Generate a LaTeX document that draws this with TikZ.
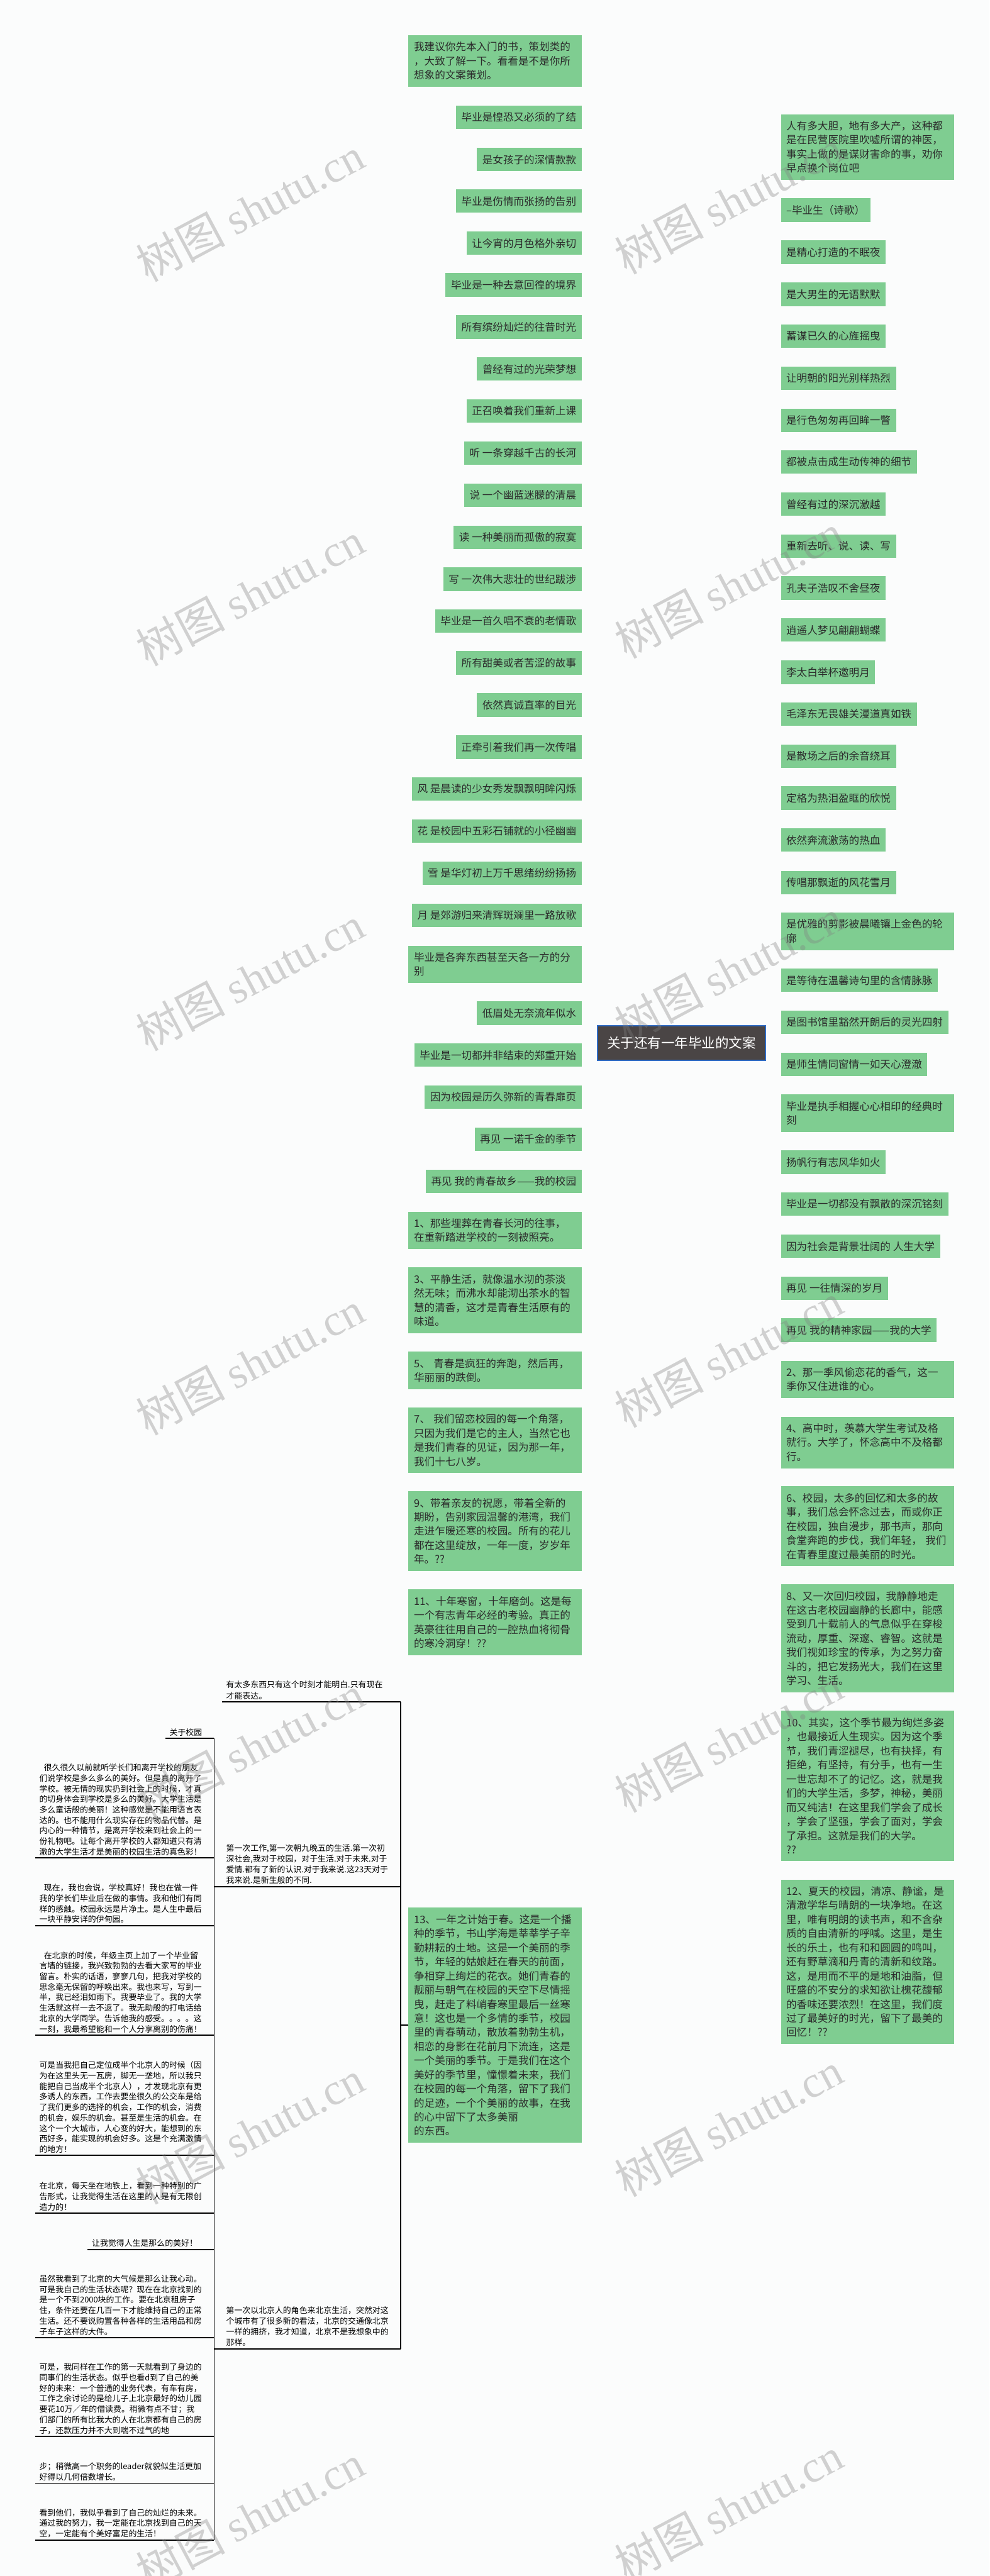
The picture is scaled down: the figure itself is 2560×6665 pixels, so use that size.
\documentclass[tikz,border=0pt]{standalone}
\usepackage{fontspec}
\setmainfont{Noto Sans CJK SC}
\newfontfamily\wmlatin{Liberation Serif}
\definecolor{ngreen}{HTML}{7FCD91}
\definecolor{ntext}{HTML}{2B2B2B}
\definecolor{conncol}{HTML}{3E3B3B}
\definecolor{cfill}{HTML}{4A4545}
\definecolor{cblue}{HTML}{2F6BC4}
\definecolor{bgc}{HTML}{FBFCFC}
\pgfdeclarelayer{bg}
\pgfdeclarelayer{fg}
\pgfsetlayers{bg,main,fg}
\tikzset{
  gn/.style={fill=ngreen, text=ntext, font=\fontsize{27}{36.5}\selectfont, inner xsep=14pt, inner ysep=0pt, minimum height=60.5pt},
  ml/.style={text width=420pt, align=left, minimum height=#1},
  ln/.style={gn, anchor=east},
  rn/.style={gn, anchor=west},
  conn/.style={draw=conncol, line width=3.2pt},
  bt/.style={font=\fontsize{21}{27.2}\selectfont, text=black, inner xsep=11pt, inner ysep=6pt, align=left, anchor=south east},
  mt/.style={font=\fontsize{21}{28}\selectfont, text=black, inner xsep=11pt, inner ysep=6pt, align=left, anchor=south west},
  ul/.style={draw=black, line width=3pt},
  wm/.style={rotate=28, text=gray, opacity=0.35, font=\fontsize{115}{115}\selectfont},
}
\begin{document}
\begin{tikzpicture}[x=1pt, y=-1pt]
\fill[bgc] (0,0) rectangle (2560,6665);
\useasboundingbox (0,0) rectangle (2560,6665);

% center
\node[fill=cfill, draw=cblue, line width=3pt, text=white, font=\fontsize{35}{40}\selectfont, inner xsep=25pt, minimum height=90pt] (C) at (1763,2699) {关于还有一年毕业的文案};

% left nodes
\node[ln, ml=133.5pt] (l1) at (1505,157.5) {我建议你先本入门的书，策划类的\\，大致了解一下。看看是不是你所\\想象的文案策划。};
\node[ln] (l2) at (1505,303) {毕业是惶恐又必须的了结};
\node[ln] (l3) at (1505,413) {是女孩子的深情款款};
\node[ln] (l4) at (1505,520.5) {毕业是伤情而张扬的告别};
\node[ln] (l5) at (1505,629.5) {让今宵的月色格外亲切};
\node[ln] (l6) at (1505,737) {毕业是一种去意回徨的境界};
\node[ln] (l7) at (1505,846) {所有缤纷灿烂的往昔时光};
\node[ln] (l8) at (1505,955) {曾经有过的光荣梦想};
\node[ln] (l9) at (1505,1063.5) {正召唤着我们重新上课};
\node[ln] (l10) at (1505,1172.5) {听 一条穿越千古的长河};
\node[ln] (l11) at (1505,1281.5) {说 一个幽蓝迷朦的清晨};
\node[ln] (l12) at (1505,1390) {读 一种美丽而孤傲的寂寞};
\node[ln] (l13) at (1505,1498.5) {写 一次伟大悲壮的世纪跋涉};
\node[ln] (l14) at (1505,1606.5) {毕业是一首久唱不衰的老情歌};
\node[ln] (l15) at (1505,1715) {所有甜美或者苦涩的故事};
\node[ln] (l16) at (1505,1824) {依然真诚直率的目光};
\node[ln] (l17) at (1505,1933) {正牵引着我们再一次传唱};
\node[ln] (l18) at (1505,2041.5) {风 是晨读的少女秀发飘飘明眸闪烁};
\node[ln] (l19) at (1505,2150.5) {花 是校园中五彩石铺就的小径幽幽};
\node[ln] (l20) at (1505,2259) {雪 是华灯初上万千思绪纷纷扬扬};
\node[ln] (l21) at (1505,2368) {月 是郊游归来清辉斑斓里一路放歌};
\node[ln, ml=97pt] (l22) at (1505,2495) {毕业是各奔东西甚至天各一方的分\\别};
\node[ln] (l23) at (1505,2621.5) {低眉处无奈流年似水};
\node[ln] (l24) at (1505,2730) {毕业是一切都并非结束的郑重开始};
\node[ln] (l25) at (1505,2838.5) {因为校园是历久弥新的青春扉页};
\node[ln] (l26) at (1505,2947.5) {再见 一诺千金的季节};
\node[ln] (l27) at (1505,3056) {再见 我的青春故乡——我的校园};
\node[ln, ml=97pt] (l28) at (1505,3183.5) {1、那些埋葬在青春长河的往事，\\在重新踏进学校的一刻被照亮。};
\node[ln, ml=170pt] (l29) at (1505,3364.5) {3、平静生活，就像温水沏的茶淡\\然无味；而沸水却能沏出茶水的智\\慧的清香，这才是青春生活原有的\\味道。};
\node[ln, ml=97pt] (l30) at (1505,3545.5) {5、 青春是疯狂的奔跑，然后再，\\华丽丽的跌倒。};
\node[ln, ml=170pt] (l31) at (1505,3726.5) {7、 我们留恋校园的每一个角落，\\只因为我们是它的主人，当然它也\\是我们青春的见证，因为那一年，\\我们十七八岁。};
\node[ln, ml=206.5pt] (l32) at (1505,3961.5) {9、带着亲友的祝愿，带着全新的\\期盼，告别家园温馨的港湾，我们\\走进乍暖还寒的校园。所有的花儿\\都在这里绽放，一年一度，岁岁年\\年。??};
\node[ln, ml=170pt] (l33) at (1505,4197.5) {11、十年寒窗，十年磨剑。这是每\\一个有志青年必经的考验。真正的\\英豪往往用自己的一腔热血将彻骨\\的寒冷洞穿！??};
\node[ln, ml=608pt] (l34) at (1505,5240) {13、一年之计始于春。这是一个播\\种的季节，书山学海是莘莘学子辛\\勤耕耘的土地。这是一个美丽的季\\节，年轻的姑娘赶在春天的前面，\\争相穿上绚烂的花衣。她们青春的\\靓丽与朝气在校园的天空下尽情摇\\曳，赶走了料峭春寒里最后一丝寒\\意！这也是一个多情的季节，校园\\里的青春萌动，散放着勃勃生机，\\相恋的身影在花前月下流连，这是\\一个美丽的季节。于是我们在这个\\美好的季节里，憧憬着未来，我们\\在校园的每一个角落，留下了我们\\的足迹，一个个美丽的故事，在我\\的心中留下了太多美丽\\的东西。};

% right nodes
\node[rn, ml=170pt] (r1) at (2020,380.5) {人有多大胆，地有多大产，这种都\\是在民营医院里吹嘘所谓的神医，\\事实上做的是谋财害命的事，劝你\\早点换个岗位吧};
\node[rn] (r2) at (2020,543.5) {--毕业生（诗歌）};
\node[rn] (r3) at (2020,652.5) {是精心打造的不眠夜};
\node[rn] (r4) at (2020,761.5) {是大男生的无语默默};
\node[rn] (r5) at (2020,870) {蓄谋已久的心旌摇曳};
\node[rn] (r6) at (2020,978.5) {让明朝的阳光别样热烈};
\node[rn] (r7) at (2020,1087.5) {是行色匆匆再回眸一瞥};
\node[rn] (r8) at (2020,1195.5) {都被点击成生动传神的细节};
\node[rn] (r9) at (2020,1304.5) {曾经有过的深沉激越};
\node[rn] (r10) at (2020,1413.5) {重新去听、说、读、写};
\node[rn] (r11) at (2020,1521.5) {孔夫子浩叹不舍昼夜};
\node[rn] (r12) at (2020,1630) {逍遥人梦见翩翩蝴蝶};
\node[rn] (r13) at (2020,1739.5) {李太白举杯邀明月};
\node[rn] (r14) at (2020,1847.5) {毛泽东无畏雄关漫道真如铁};
\node[rn] (r15) at (2020,1956.5) {是散场之后的余音绕耳};
\node[rn] (r16) at (2020,2065) {定格为热泪盈眶的欣悦};
\node[rn] (r17) at (2020,2173.5) {依然奔流激荡的热血};
\node[rn] (r18) at (2020,2283.5) {传唱那飘逝的风花雪月};
\node[rn, ml=97pt] (r19) at (2020,2409.5) {是优雅的剪影被晨曦镶上金色的轮\\廓};
\node[rn] (r20) at (2020,2536.5) {是等待在温馨诗句里的含情脉脉};
\node[rn] (r21) at (2020,2645) {是图书馆里豁然开朗后的灵光四射};
\node[rn] (r22) at (2020,2753.5) {是师生情同窗情一如天心澄澈};
\node[rn, ml=97pt] (r23) at (2020,2880) {毕业是执手相握心心相印的经典时\\刻};
\node[rn] (r24) at (2020,3007) {扬帆行有志风华如火};
\node[rn] (r25) at (2020,3115.5) {毕业是一切都没有飘散的深沉铭刻};
\node[rn] (r26) at (2020,3224.5) {因为社会是背景壮阔的 人生大学};
\node[rn] (r27) at (2020,3333) {再见 一往情深的岁月};
\node[rn] (r28) at (2020,3441.5) {再见 我的精神家园——我的大学};
\node[rn, ml=97pt] (r29) at (2020,3569) {2、那一季风偷恋花的香气，这一\\季你又住进谁的心。};
\node[rn, ml=133.5pt] (r30) at (2020,3732) {4、高中时，羡慕大学生考试及格\\就行。大学了，怀念高中不及格都\\行。};
\node[rn, ml=206.5pt] (r31) at (2020,3949) {6、校园，太多的回忆和太多的故\\事，我们总会怀念过去，而或你正\\在校园，独自漫步，那书声，那向\\食堂奔跑的步伐，我们年轻， 我们\\在青春里度过最美丽的时光。};
\node[rn, ml=279.5pt] (r32) at (2020,4238.75) {8、又一次回归校园，我静静地走\\在这古老校园幽静的长廊中，能感\\受到几十载前人的气息似乎在穿梭\\流动，厚重、深邃、睿智。这就是\\我们视如珍宝的传承，为之努力奋\\斗的，把它发扬光大，我们在这里\\学习、生活。};
\node[rn, ml=389pt] (r33) at (2020,4620.5) {10、其实，这个季节最为绚烂多姿\\，也最接近人生现实。因为这个季\\节，我们青涩褪尽，也有抉择，有\\拒绝，有坚持，有分手，也有一生\\一世忘却不了的记忆。这，就是我\\们的大学生活，多梦，神秘，美丽\\而又纯洁！在这里我们学会了成长\\，学会了坚强，学会了面对，学会\\了承担。这就是我们的大学。\\??};
\node[rn, ml=425.5pt] (r34) at (2020,5075.75) {12、夏天的校园，清凉、静谧，是\\清澈学华与晴朗的一块净地。在这\\里，唯有明朗的读书声，和不含杂\\质的自由清新的呼喊。这里，是生\\长的乐土，也有和和圆圆的鸣叫，\\还有野草滴和丹青的清新和纹路。\\这，是用而不平的是地和油脂，但\\旺盛的不安分的求知欲让槐花馥郁\\的香味还要浓烈！在这里，我们度\\过了最美好的时光，留下了最美的\\回忆！??};

% connectors
\begin{pgfonlayer}{bg}
\foreach \n in {1,...,34}{
  \draw[conn] (C.center) .. controls (C.center |- l\n.east) .. (l\n.east);
  \draw[conn] (C.center) .. controls (C.center |- r\n.west) .. (r\n.west);
}
\end{pgfonlayer}

% middle column (children of node 13)
\coordinate (sp1) at (1037,4403);
\coordinate (sp2) at (1037,6077);
\coordinate (k13) at (1037,5240);
\node[mt, text width=420pt] (m1) at (574,4403) {有太多东西只有这个时刻才能明白.只有现在\\才能表达。};
\node[mt, text width=420pt] (m2) at (574,4881) {第一次工作,第一次朝九晚五的生活.第一次初\\深社会,我对于校园，对于生活.对于未来.对于\\爱情.都有了新的认识.对于我来说.这23天对于\\我来说.是新生般的不同.};
\node[mt, text width=420pt] (m3) at (574,6077) {第一次以北京人的角色来北京生活，突然对这\\个城市有了很多新的看法，北京的交通像北京\\一样的拥挤，我才知道，北京不是我想象中的\\那样。};
\draw[ul] (l34.west) -- (k13);
\draw[ul] (sp1) -- (sp2);
\draw[ul] (m1.south west) -- (sp1);
\draw[ul] (554,4881) -- (1037,4881);
\draw[ul] (554,6077) -- (1037,6077);

% left column (children)
\coordinate (lsp1) at (554,4498);
\coordinate (lsp2) at (554,6572);
\draw[ul] (lsp1) -- (lsp2);
\node[bt] (b0) at (534,4498) {关于校园};
\node[bt, text width=421pt] (b1) at (534,4807) {\hspace*{12pt}很久很久以前就听学长们和离开学校的朋友\\们说学校是多么多么的美好。但是真的离开了\\学校。被无情的现实扔到社会上的时候，才真\\的切身体会到学校是多么的美好。大学生活是\\多么童话般的美丽！这种感觉是不能用语言表\\达的。也不能用什么现实存在的物品代替。是\\内心的一种情节，是离开学校来到社会上的一\\份礼物吧。让每个离开学校的人都知道只有清\\澈的大学生活才是美丽的校园生活的真色彩！};
\node[bt, text width=421pt] (b2) at (534,4982) {\hspace*{12pt}现在，我也会说，学校真好！我也在做一件\\我的学长们毕业后在做的事情。我和他们有同\\样的感触。校园永远是片净土。是人生中最后\\一块平静安详的伊甸园。};
\node[bt, text width=421pt] (b3) at (534,5266) {\hspace*{12pt}在北京的时候，年级主页上加了一个毕业留\\言墙的链接，我兴致勃勃的去看大家写的毕业\\留言。朴实的话语，寥寥几句，把我对学校的\\思念毫无保留的呼唤出来。我也来写，写到一\\半，我已经泪如雨下。我要毕业了。我的大学\\生活就这样一去不返了。我无助般的打电话给\\北京的大学同学。告诉他我的感受。。。。这\\一刻，我最希望能和一个人分享离别的伤痛！};
\node[bt, text width=421pt] (b4) at (534,5577) {可是当我把自己定位成半个北京人的时候（因\\为在这里头无一瓦房，脚无一垄地，所以我只\\能把自己当成半个北京人），才发现北京有更\\多诱人的东西，工作去要坐很久的公交车是给\\了我们更多的选择的机会，工作的机会，消费\\的机会，娱乐的机会。甚至是生活的机会。在\\这个一个大城市，人心变的好大，能想到的东\\西好多，能实现的机会好多。这是个充满激情\\的地方！};
\node[bt, text width=421pt] (b5) at (534,5726) {在北京，每天坐在地铁上，看到一种特别的广\\告形式，让我觉得生活在这里的人是有无限创\\造力的！};
\node[bt] (b6) at (522,5820) {让我觉得人生是那么的美好！};
\node[bt, text width=421pt] (b7) at (534,6048) {虽然我看到了北京的大气候是那么让我心动。\\可是我自己的生活状态呢？现在在北京找到的\\是一个不到2000块的工作。要在北京租房子\\住，条件还要在几百一下才能维持自己的正常\\生活。还不要说购置各种各样的生活用品和房\\子车子这样的大件。};
\node[bt, text width=421pt] (b8) at (534,6304) {可是，我同样在工作的第一天就看到了身边的\\同事们的生活状态。似乎也看d到了自己的美\\好的未来：一个普通的业务代表，有车有房，\\工作之余讨论的是给儿子上北京最好的幼儿园\\要花10万／年的借读费。稍微有点不甘；我\\们部门的所有比我大的人在北京都有自己的房\\子，还款压力并不大到喘不过气的地};
\node[bt, text width=421pt] (b9) at (534,6425) {步；稍微高一个职务的leader就貌似生活更加\\好得以几何倍数增长。};
\node[bt, text width=421pt] (b10) at (534,6572) {看到他们，我似乎看到了自己的灿烂的未来。\\通过我的努力，我一定能在北京找到自己的天\\空，一定能有个美好富足的生活！};
\foreach \b/\yy in {b0/4498,b1/4807,b2/4982,b3/5266,b4/5577,b5/5726,b6/5820,b7/6048,b8/6304,b9/6425,b10/6572}{
  \draw[ul] (\b.south west) -- (554,\yy);
}

% watermark
\begin{pgfonlayer}{fg}
\foreach \yy in {542,1537,2532,3527,4522,5517,6512}{
  \node[wm] (wl) at (647,\yy) {树图 {\wmlatin shutu.cn}};
  \node[wm] (wr) at (1885,\yy-20) {树图 {\wmlatin shutu.cn}};
}
\end{pgfonlayer}
\end{tikzpicture}
\end{document}
